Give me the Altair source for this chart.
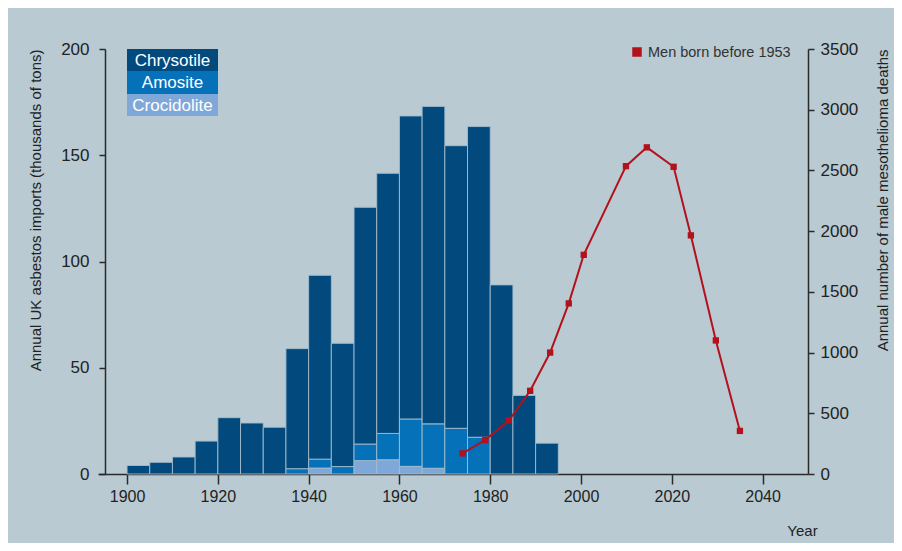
import altair as alt
import pandas as pd

# ---- data ----
bar_start = [1900, 1905, 1910, 1915, 1920, 1925, 1930, 1935, 1940, 1945,
             1950, 1955, 1960, 1965, 1970, 1975, 1980, 1985, 1990]
total_imports = [4, 5.5, 8, 15.5, 26.5, 24, 22, 59, 93.5, 61.5,
                 125.5, 141.5, 168.5, 173, 154.5, 163.5, 89, 37, 14.5]
amosite = [0, 0, 0, 0, 0, 0, 0, 2.5, 4.2, 3.5,
           7.8, 12.4, 22.3, 20.9, 21.5, 17.3, 0, 0, 0]
crocidolite = [0, 0, 0, 0, 0, 0, 0, 0, 2.8, 0,
               6.3, 6.7, 3.6, 2.7, 0, 0, 0, 0, 0]

death_year = [1973.9, 1978.9, 1984.1, 1988.8, 1993.2, 1997.3, 2000.6,
              2009.9, 2014.5, 2020.4, 2024.2, 2029.7, 2035.0]
deaths = [170, 280, 440, 685, 1000, 1405, 1805, 2535, 2690, 2530, 1965, 1100, 355]

types = ["Chrysotile", "Amosite", "Crocidolite"]
type_colors = ["#024a7e", "#0571b9", "#7fa8d8"]
x_ticks = [1900, 1920, 1940, 1960, 1980, 2000, 2020, 2040]
left_ticks = [0, 50, 100, 150, 200]
right_ticks = [0, 500, 1000, 1500, 2000, 2500, 3000, 3500]
series_name = "Men born before 1953"

# ---- build tables ----
rows = []
for s, t, a, c in zip(bar_start, total_imports, amosite, crocidolite):
    segs = [("Crocidolite", 0, c), ("Amosite", c, c + a), ("Chrysotile", c + a, t)]
    for name, lo, hi in segs:
        if hi > lo:
            rows.append({"start": s, "end": s + 5, "type": name, "y0": lo, "y1": hi})
bar_df = pd.DataFrame(rows)
death_df = pd.DataFrame({"year": death_year, "deaths": deaths, "series": series_name})

FONT = "Liberation Sans"
TEXT = "#222222"
RED = "#b3111b"

x_scale = alt.Scale(domain=[1893.6, 2050], nice=False, zero=False)
x_axis = alt.Axis(values=x_ticks, format="d", tickSize=10, labelPadding=4, labelFontSize=16,
                  title="Year", titleX=704, titleY=56, titleBaseline="middle",
                  titleAlign="center", titleAnchor="start", titleAngle=0)

bars = alt.Chart(bar_df).mark_bar(stroke="#a3bccd", strokeWidth=1, strokeOpacity=0.9).encode(
    x=alt.X("start:Q", scale=x_scale, axis=x_axis),
    x2="end:Q",
    y=alt.Y("y0:Q", scale=alt.Scale(domain=[0, 200], nice=False),
            axis=alt.Axis(values=left_ticks, format="d", offset=-7, tickSize=6, labelPadding=10,
                          labelFontSize=17,
                          title="Annual UK asbestos imports (thousands of tons)",
                          titleAngle=270, titleAlign="right", titleX=-70, titleY=0,
                          titleBaseline="middle")),
    y2="y1:Q",
    color=alt.Color("type:N", scale=alt.Scale(domain=types, range=type_colors), legend=None),
)

right_axis = alt.Axis(values=right_ticks, format="d", orient="right", tickSize=6, labelPadding=6,
                      labelFontSize=17,
                      title="Annual number of male mesothelioma deaths",
                      titleAngle=270, titleAlign="right", titleX=74, titleY=0,
                      titleBaseline="middle")
y_right = alt.Scale(domain=[0, 3500], nice=False)

line = alt.Chart(death_df).mark_line(
    color=RED, strokeWidth=2,
    point=alt.OverlayMarkDef(shape="square", size=40, color=RED, filled=True, opacity=1),
).encode(
    x=alt.X("year:Q", scale=x_scale),
    y=alt.Y("deaths:Q", scale=y_right, axis=right_axis),
)

one = pd.DataFrame({"k": [0]})
legend_layers = []
row_top = [0, 22, 45]
row_bot = [22, 45, 67]
for name, col, top, bot in zip(types, type_colors, row_top, row_bot):
    legend_layers.append(
        alt.Chart(one).mark_rect(color=col).encode(
            x=alt.value(29), x2=alt.value(120), y=alt.value(top), y2=alt.value(bot)))
    legend_layers.append(
        alt.Chart(one).mark_text(text=name, color="white", fontSize=17, font=FONT,
                                 align="center", baseline="middle").encode(
            x=alt.value(74.5), y=alt.value((top + bot) / 2 + 0.5)))

legend_layers.append(
    alt.Chart(one).mark_square(color=RED, size=90, opacity=1).encode(
        x=alt.value(539), y=alt.value(3)))
legend_layers.append(
    alt.Chart(one).mark_text(text=series_name, color="#333333", fontSize=14.5, font=FONT,
                             align="left", baseline="middle").encode(
        x=alt.value(550), y=alt.value(3.5)))

chart = alt.layer(bars, line, *legend_layers).resolve_scale(
    y="independent"
).properties(
    width=710, height=425,
    autosize=alt.AutoSizeParams(type="none"),
    padding={"left": 90, "top": 41, "right": 86, "bottom": 69},
    background="#b9cad2",
).configure_view(stroke=None).configure_axis(
    grid=False,
    domainColor="#2a2a2a", domainWidth=1.5,
    tickColor="#2a2a2a", tickWidth=1.5,
    labelFont=FONT, labelFontSize=16, labelColor=TEXT,
    titleFont=FONT, titleFontSize=15, titleColor=TEXT, titleFontWeight="normal",
)

chart.save("out.html", embed_options={"renderer": "svg", "actions": False})
